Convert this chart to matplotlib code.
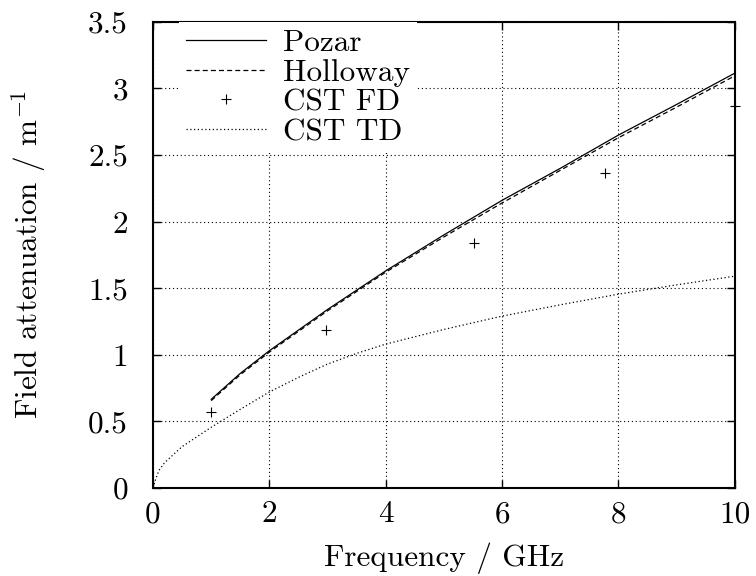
import matplotlib
matplotlib.use("Agg")
from matplotlib import pyplot as plt

plt.rcParams['font.family'] = 'cmr10'
plt.rcParams['mathtext.fontset'] = 'cm'
plt.rcParams['axes.formatter.use_mathtext'] = True

# analytic curves
f_model = [1, 1.5, 2, 3, 4, 5, 6, 7, 8, 9, 10]
pozar = [0.665, 0.86, 1.03, 1.34, 1.63, 1.90, 2.16, 2.40, 2.65, 2.88, 3.115]
holloway = [0.655, 0.85, 1.02, 1.33, 1.62, 1.885, 2.14, 2.385, 2.63, 2.86, 3.095]

# CST frequency domain points
f_fd = [1.0, 2.97, 5.51, 7.76, 10.0]
cst_fd = [0.571, 1.185, 1.838, 2.364, 2.87]

# CST time domain curve
f_td = [0, 0.05, 0.1, 0.2, 0.5, 1, 1.5, 2, 2.5, 3, 3.5, 4, 5, 6, 7, 8, 9, 10]
cst_td = [0, 0.07, 0.13, 0.19, 0.31, 0.455, 0.59, 0.72, 0.83, 0.93, 1.01, 1.08,
          1.19, 1.29, 1.375, 1.455, 1.525, 1.59]

xticks = [0, 2, 4, 6, 8, 10]
yticks = [0, 0.5, 1, 1.5, 2, 2.5, 3, 3.5]
ytick_labels = ['0', '0.5', '1', '1.5', '2', '2.5', '3', '3.5']

fs = 22.5

fig = plt.figure(figsize=(7.56, 5.76), dpi=100)
ax = fig.add_subplot(111)
fig.subplots_adjust(left=0.2024, right=0.972, bottom=0.153, top=0.962)

ax.plot(f_model, pozar, color='black', lw=0.9, label='Pozar')
ax.plot(f_model, holloway, color='black', lw=0.9, ls=(0, (4, 2.5)), label='Holloway')
ax.plot(f_fd, cst_fd, ls='none', marker='+', ms=7, mew=0.8, color='black',
        label='CST FD', clip_on=False)
ax.plot(f_td, cst_td, color='black', lw=0.9, ls=(0, (1, 2)), label='CST TD')

ax.set_xlim(0, 10)
ax.set_ylim(0, 3.5)
ax.set_xticks(xticks)
ax.set_xticklabels([str(t) for t in xticks])
ax.set_yticks(yticks)
ax.set_yticklabels(ytick_labels)
ax.tick_params(direction='in', length=6, width=1, top=True, right=True,
               labelsize=fs)
ax.tick_params(axis='x', pad=9)
ax.tick_params(axis='y', pad=18)
ax.grid(True, color='black', lw=0.8, ls=(0, (1, 2.5)))
for s in ax.spines.values():
    s.set_linewidth(1.5)

ax.set_xlabel('Frequency / GHz', fontsize=fs, labelpad=10)
ax.set_ylabel(r'Field attenuation / $\mathrm{m}^{-1}$', fontsize=fs, labelpad=28)

leg = ax.legend(loc='upper left', bbox_to_anchor=(0.045, 1.0), borderaxespad=0,
                fontsize=fs, frameon=True, fancybox=False, framealpha=1,
                facecolor='white', edgecolor='none', handlelength=2.55,
                handletextpad=0.55, labelspacing=0.06, borderpad=0.22)

fig.savefig('out.png', dpi=100)
